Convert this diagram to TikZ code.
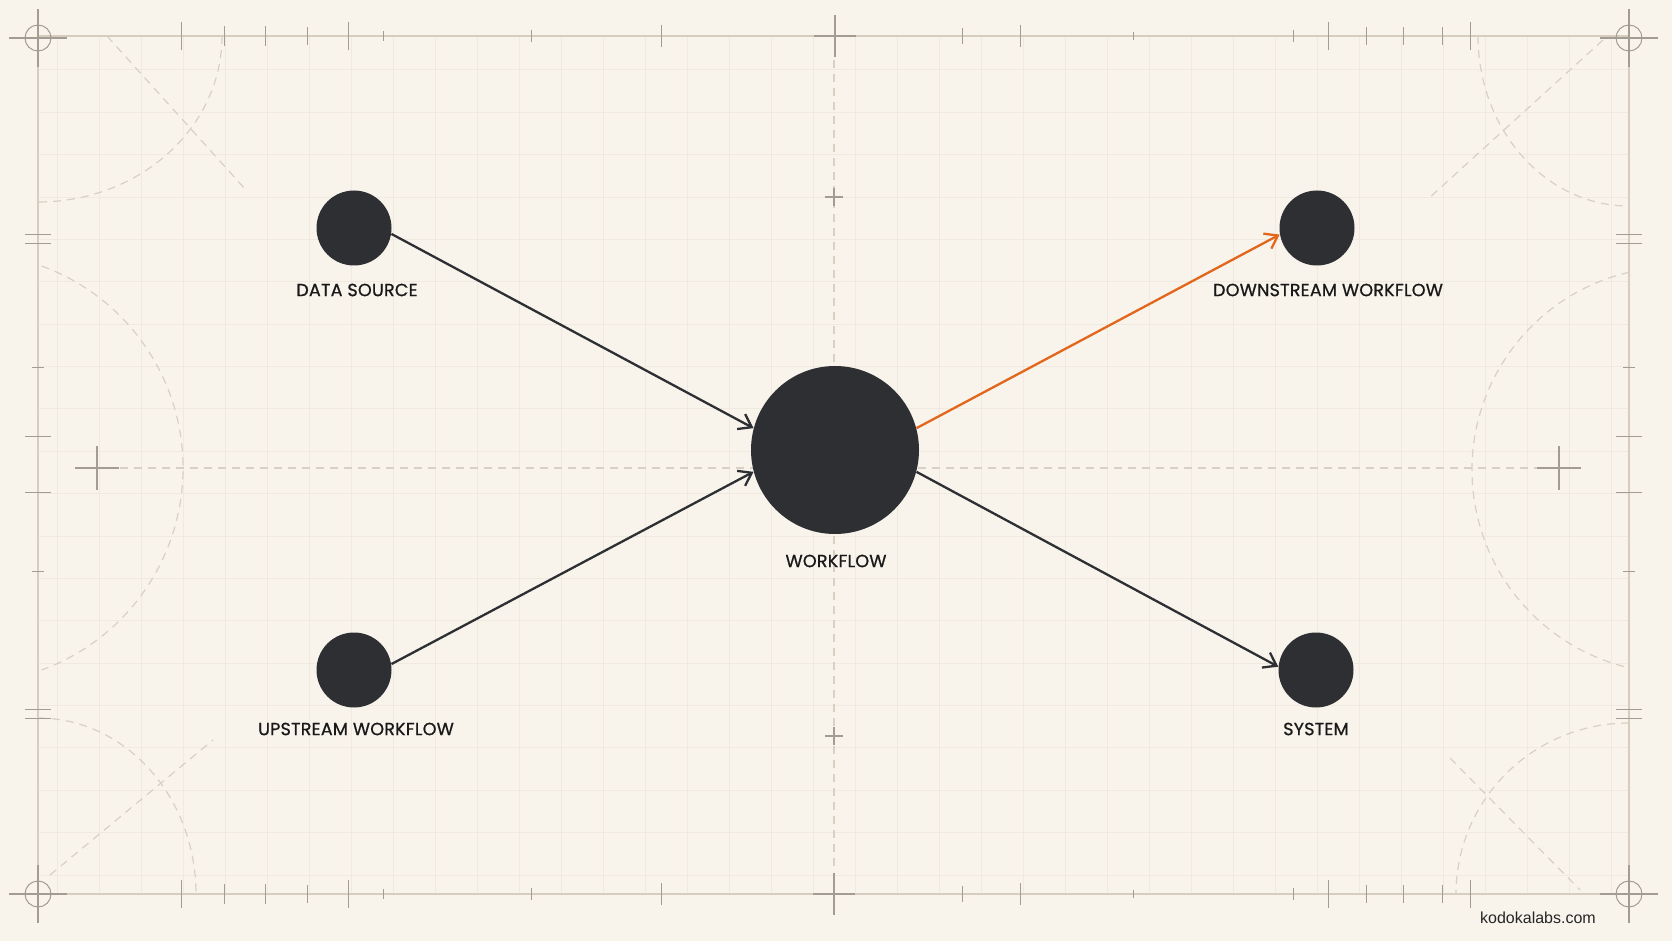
\documentclass[tikz,border=0pt]{standalone}
\usepackage{fontspec}
\setmainfont{Poppins}
\newfontfamily\labelFont[FakeBold=0.8, LetterSpace=1.0]{Poppins}
\newfontfamily\siteFont{Liberation Sans}
\usetikzlibrary{arrows.meta}
\definecolor{paper}{HTML}{F8F4EC}
\definecolor{gridTone}{HTML}{F0E9DF}
\definecolor{frameTone}{HTML}{D6CDBF}
\definecolor{tickTone}{HTML}{A39C92}
\definecolor{dashTone}{HTML}{D9D0C4}
\definecolor{ink}{HTML}{2E2F33}
\definecolor{flame}{HTML}{E2661B}
\begin{document}
\begin{tikzpicture}[x=0.5pt, y=-0.5pt,
    dotStyle/.style={circle, fill=ink, inner sep=0pt, minimum size=37.5pt},
    hubStyle/.style={circle, fill=ink, inner sep=0pt, minimum size=84pt},
    labelStyle/.style={font=\labelFont\fontsize{8.8}{11}\selectfont, text=black!90, inner sep=0pt},
    flowStyle/.style={draw=ink, line width=1.15pt, -{Straight Barb[length=6pt, width=8.5pt]}},
    gridStyle/.style={draw=gridTone, line width=0.5pt},
    tickStyle/.style={draw=tickTone, line width=0.5pt},
    dashStyle/.style={draw=dashTone, line width=0.6pt, dash pattern=on 4pt off 3pt}]

    % paper and grid
    \useasboundingbox (0,0) rectangle (1672,941);
    \fill[paper] (0,0) rectangle (1672,941);
    \foreach \i in {0,...,37}
        \draw[gridStyle] ({57+42*\i},37) -- ({57+42*\i},894);
    \foreach \j in {0,...,19}
        \draw[gridStyle] (38,{70+42.37*\j}) -- (1629,{70+42.37*\j});
    \draw[draw=frameTone, line width=0.7pt] (38,36) rectangle (1629,894);

    % dashed guides
    \draw[dashStyle] (120,468) -- (1538,468);
    \draw[dashStyle] (834,60) -- (834,872);
    \draw[dashStyle] (222,36) arc[start angle=0, end angle=90, x radius=184, y radius=166];
    \draw[dashStyle] (1478,36) arc[start angle=180, end angle=90, x radius=151, y radius=170];
    \draw[dashStyle] (38,718) arc[start angle=-90, end angle=0, x radius=158, y radius=176];
    \draw[dashStyle] (1629,723) arc[start angle=-90, end angle=-180, x radius=173, y radius=171];
    \draw[dashStyle] (-32,468) ++(-70:215) arc[start angle=-70, end angle=70, radius=215];
    \draw[dashStyle] (1675,470) ++(257:203) arc[start angle=257, end angle=103, radius=203];
    \draw[dashStyle] (107,36) -- (246,190);
    \draw[dashStyle] (1603,40) -- (1428,199);
    \draw[dashStyle] (50,875) -- (213,740);
    \draw[dashStyle] (1450,758) -- (1580,890);

    % edge ticks
    \foreach \x/\h in {181/14, 348/14, 1328/14, 1470/14, 224/10, 265/10, 307/9, 661/11,
                       962/8, 1020/11, 1366/9, 1403/9, 1442/9, 383/5, 531/6, 1133/4, 1293/6} {
        \draw[tickStyle] (\x,{36-\h}) -- (\x,{36+\h});
        \draw[tickStyle] (\x,{894-\h}) -- (\x,{894+\h});
    }
    \foreach \y/\h in {235/13, 244/13, 709/13, 718/13, 437/13, 492/13, 368/6, 571/6} {
        \draw[tickStyle] ({38-\h},\y) -- ({38+\h},\y);
        \draw[tickStyle] ({1629-\h},\y) -- ({1629+\h},\y);
    }

    % cross marks
    \foreach \cx/\cy/\r in {835/36/21, 834/894/21, 834/197/9, 834/736/9, 97/468/22, 1559/468/22} {
        \draw[tickStyle, line width=0.7pt] ({\cx-\r},\cy) -- ({\cx+\r},\cy);
        \draw[tickStyle, line width=0.7pt] (\cx,{\cy-\r}) -- (\cx,{\cy+\r});
    }
    \foreach \cx/\cy in {38/38, 1629/38, 38/894, 1629/894} {
        \draw[tickStyle] (\cx,\cy) circle[radius=13];
        \draw[tickStyle, line width=0.7pt] ({\cx-29},\cy) -- ({\cx+29},\cy);
        \draw[tickStyle, line width=0.7pt] (\cx,{\cy-29}) -- (\cx,{\cy+29});
    }

    % nodes
    \node[dotStyle] (source) at (354, 228) {};
    \node[dotStyle] (upstream) at (354, 670) {};
    \node[hubStyle] (workflow) at (835, 450) {};
    \node[dotStyle] (downstream) at (1317, 228) {};
    \node[dotStyle] (system) at (1316, 670) {};

    \node[labelStyle] (sourceLabel) at (357, 290) {DATA SOURCE};
    \node[labelStyle] (upstreamLabel) at (356, 729) {UPSTREAM WORKFLOW};
    \node[labelStyle] (workflowLabel) at (836, 561) {WORKFLOW};
    \node[labelStyle] (downstreamLabel) at (1328, 290) {DOWNSTREAM WORKFLOW};
    \node[labelStyle] (systemLabel) at (1316, 729) {SYSTEM};

    % connectors
    \draw[flowStyle] (source.-9) -- (workflow.165);
    \draw[flowStyle] (upstream.9) -- (workflow.195);
    \draw[flowStyle, draw=flame] (workflow.15) -- (downstream.190);
    \draw[flowStyle] (workflow.-15) -- (system.175);

    \node[font=\siteFont\fontsize{8}{10}\selectfont, text=black!85, inner sep=0pt] (site) at (1538, 918) {kodokalabs.com};
\end{tikzpicture}
\end{document}
